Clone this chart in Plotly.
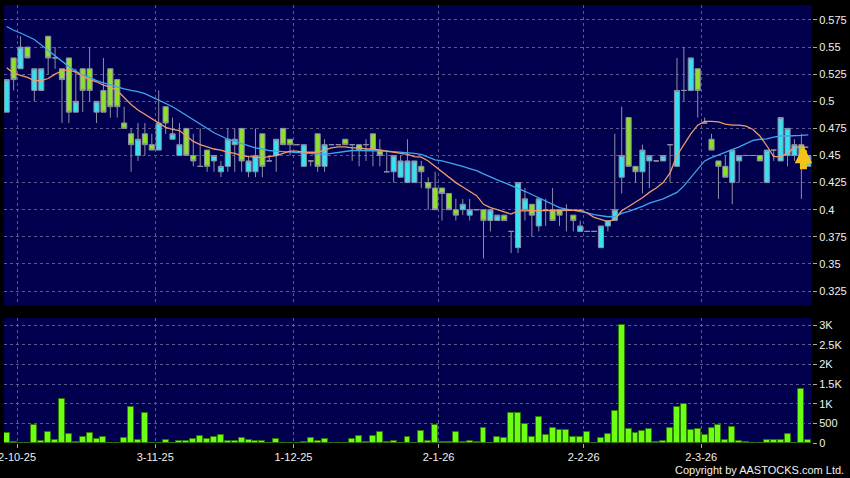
import plotly.graph_objects as go

# ---- data ----
tick_pos = [1.5, 21.5, 41.5, 62.5, 83.5, 100.5]
tick_labels = ["2-10-25", "3-11-25", "1-12-25", "2-1-26", "2-2-26", "2-3-26"]

opens = [.49, .54, .53, .55, .51, .51, .56, .54, .53, .54, .49, .53, .53, .49, .51, .53, .52, .48, .47, .45,
         .47, .46, .455, .495, .465, .45, .475, .45, .44, .455, .445, .435, .44, .46, .475, .435, .435, .47, .445, .45,
         .475, .465, .46, .44, .445, .47, .44, .46, .46, .465, .46, .46, .46, .47, .455, .435, .435, .43, .425, .425,
         .44, .425, .42, .42, .415, .40, .40, .395, .40, .40, .39, .39, .395, .38, .365, .40, .405, .385, .40, .40,
         .40, .40, .395, .38, .38, .38, .365, .385, .39, .43, .485, .44, .435, .445, .445, .445, .46, .44, .51, .51,
         .53, .48, .465, .445, .44, .425, .445, .45, .45, .45, .425, .455, .445, .45, .45, .46, .44]
highs = [.52, .54, .56, .55, .53, .53, .56, .55, .53, .54, .53, .53, .55, .50, .54, .53, .52, .495, .475, .48,
         .48, .47, .51, .495, .485, .48, .475, .47, .475, .455, .45, .445, .475, .475, .475, .45, .475, .47, .45, .465,
         .475, .465, .46, .46, .445, .47, .465, .46, .46, .465, .46, .46, .465, .47, .465, .455, .45, .45, .465, .445,
         .445, .43, .435, .42, .415, .41, .41, .41, .40, .40, .40, .395, .395, .38, .425, .42, .405, .41, .41, .42,
         .40, .405, .395, .39, .38, .38, .385, .39, .47, .495, .485, .44, .46, .45, .445, .45, .46, .54, .55, .54,
         .53, .485, .47, .445, .45, .455, .45, .45, .45, .45, .455, .455, .485, .475, .465, .47, .45]
lows = [.49, .51, .53, .54, .50, .51, .525, .53, .48, .48, .49, .49, .50, .48, .49, .485, .485, .475, .435, .445,
        .45, .455, .455, .47, .465, .45, .45, .44, .44, .435, .435, .43, .435, .435, .435, .43, .43, .43, .445, .435,
        .46, .45, .46, .44, .44, .435, .435, .46, .46, .46, .445, .44, .445, .44, .44, .435, .425, .43, .425, .425,
        .42, .40, .40, .39, .40, .39, .395, .39, .40, .355, .38, .39, .39, .36, .36, .39, .375, .38, .385, .39,
        .385, .38, .38, .38, .38, .38, .365, .38, .39, .415, .44, .425, .415, .42, .445, .445, .425, .44, .50, .51,
        .485, .48, .455, .41, .43, .405, .425, .45, .45, .445, .425, .445, .445, .44, .445, .41, .44]
closes = [.52, .52, .55, .54, .53, .53, .54, .54, .52, .49, .50, .51, .51, .50, .49, .495, .495, .475, .46, .465,
          .46, .455, .48, .48, .47, .46, .45, .445, .44, .44, .45, .44, .465, .465, .445, .445, .45, .44, .445, .465,
          .46, .46, .46, .46, .445, .44, .46, .46, .46, .46, .46, .455, .46, .455, .45, .435, .45, .445, .445, .445,
          .435, .42, .40, .415, .40, .395, .405, .40, .40, .39, .40, .395, .39, .38, .425, .41, .395, .41, .40, .39,
          .395, .40, .39, .385, .38, .38, .385, .39, .40, .45, .44, .435, .455, .45, .445, .45, .46, .51, .51, .54,
          .51, .48, .455, .44, .43, .455, .45, .45, .45, .445, .455, .455, .485, .475, .46, .45, .45]
ma_short = [.531, .526, .524, .522, .519, .519, .521, .525, .528, .529, .527, .523, .520, .518, .515, .513, .510, .503, .497, .492,
            .488, .484, .480, .476, .474, .473, .468, .463, .460, .458, .456, .455, .453, .452, .450, .449, .4485, .448, .449, .450,
            .452, .454, .454, .453, .453, .453, .455, .457, .458, .458, .457, .457, .456, .456, .455, .454, .453, .452, .451, .449,
            .4485, .445, .440, .435, .430, .425, .421, .417, .413, .405, .402, .400, .398, .396, .399, .399, .399, .399, .399, .399,
            .399, .399, .3995, .3997, .397, .393, .391, .389, .391, .399, .403, .407, .411, .416, .420, .425, .434, .450, .460, .470,
            .478, .4815, .4815, .481, .479, .478, .478, .477, .474, .468, .459, .449, .449, .452, .4577, .4577, .4577]
ma_long = [.569, .5655, .563, .560, .557, .552, .547, .542, .537, .532, .528, .524, .522, .519, .517, .515, .513, .5115, .510, .509,
           .507, .504, .501, .498, .495, .491, .487, .483, .479, .475, .471, .468, .465, .463, .461, .459, .457, .456, .4546, .454,
           .4535, .453, .4525, .452, .4515, .451, .451, .452, .453, .454, .4546, .4546, .4546, .4546, .4543, .454, .4535, .453, .453, .452,
           .451, .4485, .446, .445, .4435, .442, .440, .438, .436, .433, .430, .4275, .425, .4225, .420, .417, .414, .411, .4085, .405,
           .402, .4006, .3995, .3988, .397, .3955, .3945, .3935, .3935, .3966, .3985, .4006, .403, .406, .408, .410, .413, .416, .422, .430,
           .438, .445, .448, .4505, .453, .455, .458, .461, .4639, .465, .4654, .467, .468, .468, .468, .4685, .469]
volumes = [270, 34, 8, 0, 456, 51, 296, 85, 1132, 237, 25, 169, 254, 101, 161, 0, 0, 144, 921, 76,
           760, 8, 17, 85, 0, 59, 59, 101, 177, 118, 161, 220, 59, 59, 127, 76, 51, 68, 0, 101,
           0, 8, 0, 25, 144, 59, 110, 0, 0, 0, 101, 194, 25, 186, 279, 34, 59, 0, 161, 0,
           321, 59, 465, 42, 34, 296, 25, 51, 34, 380, 8, 161, 144, 769, 769, 482, 161, 668, 203, 389,
           338, 338, 152, 161, 287, 0, 144, 228, 820, 3000, 355, 270, 313, 355, 42, 51, 380, 930, 989, 338,
           372, 220, 397, 456, 85, 406, 51, 25, 0, 0, 93, 76, 76, 228, 17, 1377, 76]
price_ticks = [0.325, 0.35, 0.375, 0.4, 0.425, 0.45, 0.475, 0.5, 0.525, 0.55, 0.575]
price_tick_text = ["0.325", "0.35", "0.375", "0.4", "0.425", "0.45", "0.475", "0.5", "0.525", "0.55", "0.575"]
vol_ticks = [0, 500, 1000, 1500, 2000, 2500, 3000]
vol_tick_text = ["0", "500", "1K", "1.5K", "2K", "2.5K", "3K"]

idx = list(range(len(closes)))

NAVY = "#00004e"
GRID = "#5a5a8c"
FONT = dict(family="Liberation Sans, Arial, sans-serif", size=11, color="#f0f0f0")

fig = go.Figure()
fig.add_trace(go.Candlestick(
    x=idx, open=opens, high=highs, low=lows, close=closes,
    xaxis="x2", yaxis="y2",
    increasing=dict(fillcolor="#36e2f2", line=dict(color="#8e8ea6", width=1)),
    decreasing=dict(fillcolor="#8ee02c", line=dict(color="#8e8ea6", width=1)),
    whiskerwidth=0, showlegend=False, hoverinfo="skip"))
fig.add_trace(go.Scatter(x=idx, y=ma_long, mode="lines", xaxis="x2", yaxis="y2",
                         line=dict(color="#3fa6ee", width=1.3), showlegend=False, hoverinfo="skip"))
fig.add_trace(go.Scatter(x=idx, y=ma_short, mode="lines", xaxis="x2", yaxis="y2",
                         line=dict(color="#ee9a6c", width=1.3), showlegend=False, hoverinfo="skip"))
fig.add_trace(go.Bar(x=idx, y=volumes, xaxis="x", yaxis="y", width=0.86,
                     marker=dict(color="#6cff14", line=dict(color="#2f7a00", width=1)),
                     showlegend=False, hoverinfo="skip"))

xr = [-0.39, 116.54]
common_x = dict(range=xr, tickvals=tick_pos, ticktext=tick_labels, showgrid=True, gridcolor=GRID,
                griddash="3px,3px", gridwidth=1, zeroline=False, showline=False, fixedrange=True,
                automargin=False)
common_y = dict(side="right", showgrid=True, gridcolor=GRID, griddash="3px,3px", gridwidth=1,
                zeroline=False, showline=False, ticks="outside", ticklen=4, tickcolor="#aaaaaa",
                tickfont=FONT, fixedrange=True, automargin=False)

fig.update_layout(
    width=850, height=478, autosize=False,
    margin=dict(l=4, r=38, t=0, b=0, pad=0),
    paper_bgcolor="#000000", plot_bgcolor=NAVY,
    font=FONT,
    boxgap=0.22, boxgroupgap=0.05,
    bargap=0,
    xaxis=dict(domain=[0, 1], anchor="y", ticks="outside", ticklen=4, tickcolor="#aaaaaa",
               tickfont=FONT, ticklabeloverflow="allow", **common_x),
    xaxis2=dict(domain=[0, 1], anchor="y2", matches="x", showticklabels=False, ticks="",
                rangeslider=dict(visible=False), **common_x),
    yaxis=dict(domain=[0.0726, 0.3347], anchor="x", range=[0, 3178],
               tickvals=vol_ticks, ticktext=vol_tick_text, **common_y),
    yaxis2=dict(domain=[0.3619, 0.9895], anchor="x2", range=[0.3121, 0.5888],
                tickvals=price_ticks, ticktext=price_tick_text, **common_y),
    annotations=[
        dict(x=115.3, y=0.459, xref="x2", yref="y2", text="", showarrow=True,
             ax=0, ay=25, arrowhead=2, arrowsize=0.5, arrowwidth=7, arrowcolor="#f4c21c"),
        dict(x=1, y=0, xref="paper", yref="paper", xanchor="right", yanchor="bottom",
             xshift=34, yshift=0, text="Copyright by AASTOCKS.com Ltd.", showarrow=False,
             font=dict(family="Liberation Sans, Arial, sans-serif", size=11, color="#f0f0f0")),
    ],
)

fig.write_html("out.html", config={"displayModeBar": False},
               post_script="document.body.style.margin='0';document.body.style.overflow='hidden';")
